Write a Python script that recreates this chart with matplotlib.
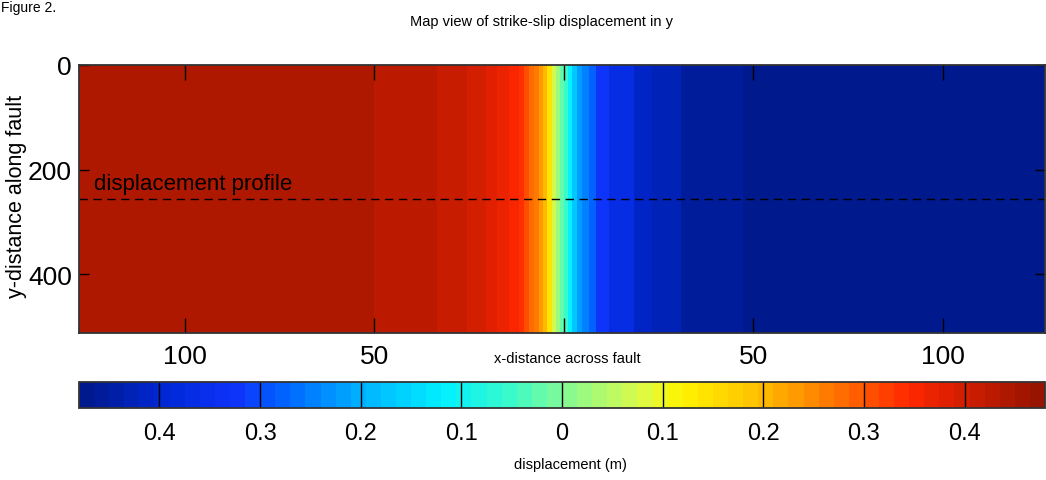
import numpy as np
import matplotlib
matplotlib.use("Agg")
import matplotlib.pyplot as plt
from matplotlib.colors import LinearSegmentedColormap

# ---- data ----
stripe_edges = [-128, -50, -33.4, -25.5, -20.5, -17.6, -14.5, -11.8, -10.5, -9.2, -7.9,
                -6.6, -5.5, -4.5, -3.2, -2.1, -1.05, 0, 1.05, 2.1, 3.4, 4.7, 6.6, 8.4,
                11.8, 18.4, 23.2, 31, 47.4, 127]
stripe_values = [0.445, 0.43, 0.415, 0.40, 0.38, 0.365, 0.35, 0.33, 0.31, 0.285,
                 0.26, 0.235, 0.195, 0.14, 0.07, 0.02, -0.02, -0.05, -0.12, -0.18,
                 -0.22, -0.25, -0.28, -0.32, -0.37, -0.405, -0.43, -0.455, -0.47]
y_edges = [0, 512]
profile_y = 256
x_ticks = [-100, -50, 0, 50, 100]
x_ticklabels = ["100", "50", "", "50", "100"]
y_ticks = [0, 200, 400]
cbar_ticks = [-0.4, -0.3, -0.2, -0.1, 0, 0.1, 0.2, 0.3, 0.4]
cbar_ticklabels = ["0.4", "0.3", "0.2", "0.1", "0", "0.1", "0.2", "0.3", "0.4"]
clim = (-0.48, 0.48)

# colour scale as seen on the reference colour bar (value -> RGB)
cmap_values = [-0.48, -0.40, -0.33, -0.28, -0.20, -0.12, -0.05, 0.0, 0.08, 0.12,
               0.20, 0.28, 0.35, 0.40, 0.48]
cmap_rgb = [(0, 25, 140), (0, 40, 215), (15, 50, 250), (0, 100, 255), (0, 180, 255),
            (0, 240, 255), (60, 250, 200), (130, 250, 150), (220, 250, 70),
            (255, 245, 0), (255, 190, 0), (255, 110, 0), (255, 40, 0), (215, 30, 0),
            (150, 20, 0)]
nodes = [((v - clim[0]) / (clim[1] - clim[0]), tuple(c / 255 for c in rgb))
         for v, rgb in zip(cmap_values, cmap_rgb)]
cmap = LinearSegmentedColormap.from_list("refjet", nodes).resampled(64)

font = ["Liberation Sans", "DejaVu Sans"]

W, H = 1046, 481
fig = plt.figure(figsize=(W / 100, H / 100), dpi=100)

def box(x0, y0, x1, y1):
    return [x0 / W, 1 - y1 / H, (x1 - x0) / W, (y1 - y0) / H]

ax = fig.add_axes(box(79, 66, 1045, 334))
C = np.array([stripe_values])
mesh = ax.pcolormesh(stripe_edges, y_edges, C, cmap=cmap, vmin=clim[0], vmax=clim[1],
                     shading="flat")
ax.set_xlim(stripe_edges[0], stripe_edges[-1])
ax.set_ylim(y_edges[-1], y_edges[0])
ax.axhline(profile_y, color="black", linestyle=(0, (6, 4)), linewidth=1.0)
ax.text(-124, profile_y - 30, "displacement profile", fontsize=16, family=font,
        va="center", ha="left")

ax.set_xticks(x_ticks)
ax.set_xticklabels(x_ticklabels, family=font, fontsize=19)
ax.set_yticks(y_ticks)
ax.set_yticklabels([str(t) for t in y_ticks], family=font, fontsize=19)
ax.tick_params(axis="x", direction="in", length=11, width=1, top=True, bottom=True, pad=8)
ax.tick_params(axis="y", direction="in", length=7, width=1, left=True, right=True, pad=5)
for s in ax.spines.values():
    s.set_linewidth(1.3)
    s.set_color("#333333")
ax.set_xlabel("x-distance across fault", family=font, fontsize=10.5)
ax.xaxis.set_label_coords((567 - 79) / 966, -(352 - 334) / 268)
ax.set_ylabel("y-distance along fault", family=font, fontsize=15.5, va="center")
ax.yaxis.set_label_coords((17 - 79) / 966, (334 - 196) / 268)

cax = fig.add_axes(box(79, 383, 1045, 409))
cb = fig.colorbar(mesh, cax=cax, orientation="horizontal")
cb.set_ticks(cbar_ticks)
cb.set_ticklabels(cbar_ticklabels)
cax.tick_params(axis="x", length=0, pad=10)
for lab in cax.get_xticklabels():
    lab.set_family(font)
    lab.set_fontsize(17)
for t in cbar_ticks:
    cax.axvline(t, color="black", linewidth=1)
cb.outline.set_linewidth(1.3)
cb.outline.set_edgecolor("#333333")
cb.set_label("displacement (m)", family=font, fontsize=10.5)
cax.xaxis.set_label_coords((570 - 79) / 966, -(458 - 409) / 26)

fig.text(542 / W, 1 - 22 / H, "Map view of strike-slip displacement in y",
         family=font, fontsize=10.5, ha="center", va="center")
fig.text(1 / W, 1 - 1 / H, "Figure 2.", family=font, fontsize=10, ha="left", va="top")

fig.savefig("out.png", dpi=100)
